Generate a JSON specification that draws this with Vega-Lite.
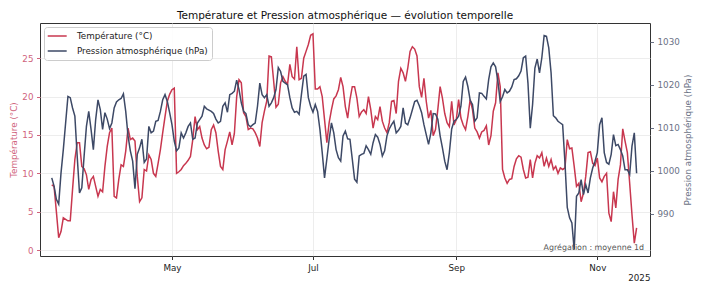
{
  "$schema": "https://vega.github.io/schema/vega-lite/v6.json",
  "width": 610,
  "height": 233,
  "autosize": {"type": "none"},
  "padding": {"left": 40, "top": 23, "right": 52, "bottom": 37},
  "background": "white",
  "config": {
    "font": "DejaVu Sans",
    "view": {"stroke": "#333333", "strokeWidth": 1},
    "axis": {
      "labelFont": "DejaVu Sans",
      "titleFont": "DejaVu Sans",
      "labelFontSize": 8.75,
      "titleFontSize": 8.75,
      "titleFontWeight": "normal",
      "tickSize": 3.5,
      "labelPadding": 3.5,
      "domain": false,
      "gridColor": "#e8e8e8",
      "gridWidth": 0.8
    }
  },
  "title": {
    "text": "Température et Pression atmosphérique — évolution temporelle",
    "font": "DejaVu Sans",
    "fontSize": 10.5,
    "fontWeight": "normal",
    "color": "#111111",
    "anchor": "middle",
    "frame": "group",
    "baseline": "alphabetic",
    "offset": -6
  },
  "data": {
    "format": {"parse": {"d": "date:'%Y-%m-%d'"}},
    "values": [
      {"d":"2025-03-10","t":8.5,"p":998.3},{"d":"2025-03-11","t":8.3,"p":996.4},{"d":"2025-03-12","t":5.0,"p":993.3},{"d":"2025-03-13","t":1.6,"p":992.2},{"d":"2025-03-14","t":2.4,"p":999.4},{"d":"2025-03-15","t":4.2,"p":1004.9},{"d":"2025-03-16","t":4.0,"p":1011.1},{"d":"2025-03-17","t":3.8,"p":1017.3},{"d":"2025-03-18","t":3.8,"p":1017.0},{"d":"2025-03-19","t":7.9,"p":1014.6},
      {"d":"2025-03-20","t":11.8,"p":1012.7},{"d":"2025-03-21","t":14.0,"p":1003.4},{"d":"2025-03-22","t":14.0,"p":994.8},{"d":"2025-03-23","t":10.9,"p":996.0},{"d":"2025-03-24","t":10.6,"p":1003.4},{"d":"2025-03-25","t":9.8,"p":1010.3},{"d":"2025-03-26","t":7.9,"p":1013.8},{"d":"2025-03-27","t":9.2,"p":1009.6},{"d":"2025-03-28","t":9.6,"p":1004.9},{"d":"2025-03-29","t":8.3,"p":1011.9},
      {"d":"2025-03-30","t":7.0,"p":1016.5},{"d":"2025-03-31","t":7.9,"p":1014.2},{"d":"2025-04-01","t":7.6,"p":1009.6},{"d":"2025-04-02","t":10.9,"p":1013.5},{"d":"2025-04-03","t":13.5,"p":1012.0},{"d":"2025-04-04","t":15.3,"p":1009.8},{"d":"2025-04-05","t":15.9,"p":1011.1},{"d":"2025-04-06","t":7.0,"p":1014.6},{"d":"2025-04-07","t":6.8,"p":1016.0},{"d":"2025-04-08","t":9.2,"p":1016.5},
      {"d":"2025-04-09","t":11.1,"p":1016.8},{"d":"2025-04-10","t":10.9,"p":1017.9},{"d":"2025-04-11","t":12.9,"p":1013.8},{"d":"2025-04-12","t":15.9,"p":1008.1},{"d":"2025-04-13","t":14.4,"p":1004.6},{"d":"2025-04-14","t":14.6,"p":1002.2},{"d":"2025-04-15","t":14.2,"p":995.8},{"d":"2025-04-16","t":9.6,"p":1003.8},{"d":"2025-04-17","t":6.3,"p":1005.3},{"d":"2025-04-18","t":6.8,"p":1007.3},
      {"d":"2025-04-19","t":10.5,"p":1001.9},{"d":"2025-04-20","t":10.3,"p":1002.7},{"d":"2025-04-21","t":12.4,"p":1010.3},{"d":"2025-04-22","t":11.8,"p":1008.8},{"d":"2025-04-23","t":10.0,"p":1009.2},{"d":"2025-04-24","t":9.6,"p":1011.5},{"d":"2025-04-25","t":11.3,"p":1011.7},{"d":"2025-04-26","t":13.1,"p":1013.8},{"d":"2025-04-27","t":15.3,"p":1016.5},{"d":"2025-04-28","t":17.4,"p":1017.7},
      {"d":"2025-04-29","t":19.4,"p":1016.1},{"d":"2025-04-30","t":20.3,"p":1013.5},{"d":"2025-05-01","t":20.9,"p":1010.7},{"d":"2025-05-02","t":21.1,"p":1006.9},{"d":"2025-05-03","t":10.0,"p":1004.6},{"d":"2025-05-04","t":10.2,"p":1005.3},{"d":"2025-05-05","t":10.5,"p":1008.8},{"d":"2025-05-06","t":11.0,"p":1007.6},{"d":"2025-05-07","t":11.3,"p":1008.8},{"d":"2025-05-08","t":11.7,"p":1010.3},
      {"d":"2025-05-09","t":12.2,"p":1011.1},{"d":"2025-05-10","t":14.4,"p":1007.3},{"d":"2025-05-11","t":17.4,"p":1007.6},{"d":"2025-05-12","t":15.7,"p":1011.1},{"d":"2025-05-13","t":16.1,"p":1011.9},{"d":"2025-05-14","t":14.6,"p":1012.7},{"d":"2025-05-15","t":13.7,"p":1015.0},{"d":"2025-05-16","t":13.2,"p":1014.4},{"d":"2025-05-17","t":13.4,"p":1014.1},{"d":"2025-05-18","t":15.7,"p":1013.8},
      {"d":"2025-05-19","t":16.3,"p":1013.3},{"d":"2025-05-20","t":15.3,"p":1012.0},{"d":"2025-05-21","t":12.9,"p":1011.1},{"d":"2025-05-22","t":10.9,"p":1011.5},{"d":"2025-05-23","t":10.5,"p":1015.0},{"d":"2025-05-24","t":13.1,"p":1015.8},{"d":"2025-05-25","t":14.2,"p":1013.6},{"d":"2025-05-26","t":15.4,"p":1017.7},{"d":"2025-05-27","t":13.7,"p":1018.0},{"d":"2025-05-28","t":15.2,"p":1018.5},
      {"d":"2025-05-29","t":20.0,"p":1021.1},{"d":"2025-05-30","t":22.2,"p":1018.9},{"d":"2025-05-31","t":21.8,"p":1015.8},{"d":"2025-06-01","t":17.9,"p":1013.8},{"d":"2025-06-02","t":17.4,"p":1013.3},{"d":"2025-06-03","t":15.7,"p":1010.7},{"d":"2025-06-04","t":15.9,"p":1010.2},{"d":"2025-06-05","t":15.8,"p":1010.7},{"d":"2025-06-06","t":15.3,"p":1011.1},{"d":"2025-06-07","t":14.6,"p":1015.0},
      {"d":"2025-06-08","t":13.5,"p":1020.4},{"d":"2025-06-09","t":16.6,"p":1017.7},{"d":"2025-06-10","t":18.1,"p":1017.0},{"d":"2025-06-11","t":19.4,"p":1017.7},{"d":"2025-06-12","t":25.3,"p":1015.0},{"d":"2025-06-13","t":25.2,"p":1015.8},{"d":"2025-06-14","t":22.0,"p":1017.0},{"d":"2025-06-15","t":18.6,"p":1018.9},{"d":"2025-06-16","t":19.0,"p":1024.0},{"d":"2025-06-17","t":21.8,"p":1023.1},
      {"d":"2025-06-18","t":22.6,"p":1020.8},{"d":"2025-06-19","t":22.0,"p":1020.4},{"d":"2025-06-20","t":21.6,"p":1020.0},{"d":"2025-06-21","t":24.2,"p":1017.0},{"d":"2025-06-22","t":22.6,"p":1014.6},{"d":"2025-06-23","t":22.3,"p":1013.6},{"d":"2025-06-24","t":26.5,"p":1013.8},{"d":"2025-06-25","t":22.2,"p":1013.1},{"d":"2025-06-26","t":22.4,"p":1017.7},{"d":"2025-06-27","t":25.0,"p":1022.0},
      {"d":"2025-06-28","t":25.9,"p":1022.4},{"d":"2025-06-29","t":26.8,"p":1017.0},{"d":"2025-06-30","t":28.0,"p":1015.0},{"d":"2025-07-01","t":28.2,"p":1013.6},{"d":"2025-07-02","t":21.0,"p":1015.4},{"d":"2025-07-03","t":21.0,"p":1013.8},{"d":"2025-07-04","t":21.3,"p":1009.6},{"d":"2025-07-05","t":20.0,"p":1004.2},{"d":"2025-07-06","t":17.0,"p":998.3},{"d":"2025-07-07","t":14.0,"p":1002.7},
      {"d":"2025-07-08","t":16.6,"p":1007.3},{"d":"2025-07-09","t":18.3,"p":1011.1},{"d":"2025-07-10","t":19.7,"p":1008.8},{"d":"2025-07-11","t":20.1,"p":1004.9},{"d":"2025-07-12","t":20.9,"p":1003.0},{"d":"2025-07-13","t":22.5,"p":1002.2},{"d":"2025-07-14","t":21.3,"p":1008.1},{"d":"2025-07-15","t":18.7,"p":1009.2},{"d":"2025-07-16","t":17.2,"p":1007.4},{"d":"2025-07-17","t":19.6,"p":1007.3},
      {"d":"2025-07-18","t":21.3,"p":1002.7},{"d":"2025-07-19","t":21.3,"p":998.0},{"d":"2025-07-20","t":19.8,"p":997.3},{"d":"2025-07-21","t":17.4,"p":1003.4},{"d":"2025-07-22","t":18.0,"p":1003.8},{"d":"2025-07-23","t":18.3,"p":1004.0},{"d":"2025-07-24","t":17.8,"p":1005.8},{"d":"2025-07-25","t":20.0,"p":1004.9},{"d":"2025-07-26","t":18.3,"p":1003.8},{"d":"2025-07-27","t":15.9,"p":1006.5},
      {"d":"2025-07-28","t":17.4,"p":1008.4},{"d":"2025-07-29","t":17.0,"p":1007.8},{"d":"2025-07-30","t":18.7,"p":1006.1},{"d":"2025-07-31","t":16.8,"p":1003.4},{"d":"2025-08-01","t":15.9,"p":1004.6},{"d":"2025-08-02","t":15.3,"p":1008.1},{"d":"2025-08-03","t":16.6,"p":1009.7},{"d":"2025-08-04","t":19.4,"p":1010.7},{"d":"2025-08-05","t":19.5,"p":1011.5},{"d":"2025-08-06","t":17.8,"p":1008.8},
      {"d":"2025-08-07","t":22.0,"p":1009.4},{"d":"2025-08-08","t":23.7,"p":1010.3},{"d":"2025-08-09","t":23.1,"p":1014.6},{"d":"2025-08-10","t":22.0,"p":1011.1},{"d":"2025-08-11","t":23.7,"p":1010.7},{"d":"2025-08-12","t":25.9,"p":1012.3},{"d":"2025-08-13","t":26.5,"p":1014.2},{"d":"2025-08-14","t":26.2,"p":1016.1},{"d":"2025-08-15","t":25.3,"p":1016.4},{"d":"2025-08-16","t":21.3,"p":1015.1},
      {"d":"2025-08-17","t":19.9,"p":1013.5},{"d":"2025-08-18","t":22.4,"p":1010.7},{"d":"2025-08-19","t":19.4,"p":1008.4},{"d":"2025-08-20","t":17.2,"p":1006.1},{"d":"2025-08-21","t":18.2,"p":1008.8},{"d":"2025-08-22","t":14.9,"p":1013.3},{"d":"2025-08-23","t":15.7,"p":1013.2},{"d":"2025-08-24","t":18.3,"p":1012.0},{"d":"2025-08-25","t":21.3,"p":1008.1},{"d":"2025-08-26","t":19.8,"p":1005.3},
      {"d":"2025-08-27","t":17.8,"p":1002.2},{"d":"2025-08-28","t":16.6,"p":1000.2},{"d":"2025-08-29","t":16.1,"p":1004.2},{"d":"2025-08-30","t":19.4,"p":1009.7},{"d":"2025-08-31","t":16.3,"p":1011.5},{"d":"2025-09-01","t":17.0,"p":1011.9},{"d":"2025-09-02","t":19.6,"p":1012.7},{"d":"2025-09-03","t":17.2,"p":1015.0},{"d":"2025-09-04","t":16.3,"p":1020.8},{"d":"2025-09-05","t":15.7,"p":1021.8},
      {"d":"2025-09-06","t":17.4,"p":1019.6},{"d":"2025-09-07","t":19.6,"p":1016.4},{"d":"2025-09-08","t":18.3,"p":1015.4},{"d":"2025-09-09","t":15.9,"p":1011.5},{"d":"2025-09-10","t":15.4,"p":1012.3},{"d":"2025-09-11","t":14.6,"p":1018.1},{"d":"2025-09-12","t":15.4,"p":1018.0},{"d":"2025-09-13","t":15.6,"p":1017.3},{"d":"2025-09-14","t":16.2,"p":1016.7},{"d":"2025-09-15","t":13.7,"p":1021.2},
      {"d":"2025-09-16","t":14.9,"p":1024.2},{"d":"2025-09-17","t":18.1,"p":1025.1},{"d":"2025-09-18","t":19.2,"p":1024.2},{"d":"2025-09-19","t":23.1,"p":1020.8},{"d":"2025-09-20","t":21.3,"p":1016.1},{"d":"2025-09-21","t":10.5,"p":1017.2},{"d":"2025-09-22","t":9.4,"p":1018.9},{"d":"2025-09-23","t":8.7,"p":1018.1},{"d":"2025-09-24","t":9.2,"p":1018.5},{"d":"2025-09-25","t":9.3,"p":1019.5},
      {"d":"2025-09-26","t":10.9,"p":1021.2},{"d":"2025-09-27","t":11.9,"p":1021.4},{"d":"2025-09-28","t":12.3,"p":1022.1},{"d":"2025-09-29","t":12.1,"p":1023.2},{"d":"2025-09-30","t":10.5,"p":1026.3},{"d":"2025-10-01","t":9.4,"p":1026.7},{"d":"2025-10-02","t":9.5,"p":1020.4},{"d":"2025-10-03","t":11.8,"p":1009.9},{"d":"2025-10-04","t":9.4,"p":1015.4},{"d":"2025-10-05","t":11.3,"p":1023.9},
      {"d":"2025-10-06","t":12.3,"p":1026.0},{"d":"2025-10-07","t":12.0,"p":1022.8},{"d":"2025-10-08","t":12.7,"p":1026.3},{"d":"2025-10-09","t":10.9,"p":1031.5},{"d":"2025-10-10","t":12.0,"p":1031.3},{"d":"2025-10-11","t":10.9,"p":1028.6},{"d":"2025-10-12","t":11.8,"p":1022.8},{"d":"2025-10-13","t":10.5,"p":1012.8},{"d":"2025-10-14","t":10.9,"p":1012.3},{"d":"2025-10-15","t":10.0,"p":1011.5},
      {"d":"2025-10-16","t":10.7,"p":1011.1},{"d":"2025-10-17","t":10.5,"p":1010.7},{"d":"2025-10-18","t":10.7,"p":1001.9},{"d":"2025-10-19","t":14.4,"p":991.4},{"d":"2025-10-20","t":13.2,"p":989.0},{"d":"2025-10-21","t":13.3,"p":987.8},{"d":"2025-10-22","t":10.9,"p":981.6},{"d":"2025-10-23","t":8.3,"p":994.0},{"d":"2025-10-24","t":8.7,"p":994.8},{"d":"2025-10-25","t":6.3,"p":997.9},
      {"d":"2025-10-26","t":7.4,"p":994.4},{"d":"2025-10-27","t":9.6,"p":996.7},{"d":"2025-10-28","t":12.7,"p":994.8},{"d":"2025-10-29","t":12.8,"p":998.3},{"d":"2025-10-30","t":11.3,"p":1000.6},{"d":"2025-10-31","t":11.0,"p":1002.2},{"d":"2025-11-01","t":12.0,"p":1004.2},{"d":"2025-11-02","t":9.4,"p":1010.7},{"d":"2025-11-03","t":8.9,"p":1012.3},{"d":"2025-11-04","t":9.6,"p":1004.2},
      {"d":"2025-11-05","t":10.0,"p":1001.9},{"d":"2025-11-06","t":4.8,"p":1001.5},{"d":"2025-11-07","t":3.7,"p":1003.8},{"d":"2025-11-08","t":7.6,"p":1008.4},{"d":"2025-11-09","t":5.5,"p":1005.8},{"d":"2025-11-10","t":9.2,"p":1006.1},{"d":"2025-11-11","t":11.1,"p":1004.9},{"d":"2025-11-12","t":15.8,"p":1003.4},{"d":"2025-11-13","t":14.2,"p":1000.2},{"d":"2025-11-14","t":12.7,"p":1000.2},
      {"d":"2025-11-15","t":8.7,"p":999.1},{"d":"2025-11-16","t":4.6,"p":1005.7},{"d":"2025-11-17","t":0.9,"p":1008.8},{"d":"2025-11-18","t":2.9,"p":999.4}
    ]
  },
  "encoding": {
    "x": {
      "field": "d",
      "type": "temporal",
      "scale": {
        "domain": [
          {"year": 2025, "month": 3, "date": 4, "hours": 22},
          {"year": 2025, "month": 11, "date": 23, "hours": 19}
        ]
      },
      "axis": {
        "values": [
          {"year": 2025, "month": 5, "date": 1},
          {"year": 2025, "month": 7, "date": 1},
          {"year": 2025, "month": 9, "date": 1},
          {"year": 2025, "month": 11, "date": 1}
        ],
        "format": "%b",
        "grid": true,
        "labelColor": "#222222",
        "tickColor": "#333333",
        "title": "2025",
        "titleColor": "#222222",
        "titleAnchor": "end",
        "titleAlign": "right",
        "titlePadding": 2
      }
    }
  },
  "layer": [
    {
      "layer": [
        {
          "mark": {"type": "line", "strokeWidth": 1.5},
          "encoding": {
            "y": {
              "field": "t",
              "type": "quantitative",
              "scale": {"domain": [-0.78, 29.6], "nice": false, "zero": false},
              "axis": {
                "title": "Température (°C)",
                "values": [0, 5, 10, 15, 20, 25],
                "grid": true,
                "labelColor": "#d0647c",
                "tickColor": "#d0647c",
                "titleColor": "#d0647c",
                "titlePadding": 3
              }
            },
            "color": {
              "datum": "Température (°C)",
              "type": "nominal",
              "scale": {
                "domain": ["Température (°C)", "Pression atmosphérique (hPa)"],
                "range": ["#c8374f", "#3d4966"]
              },
              "legend": {
                "title": null,
                "orient": "top-left",
                "offset": 4,
                "padding": 3.5,
                "fillColor": "rgba(255,255,255,0.85)",
                "strokeColor": "#cccccc",
                "cornerRadius": 3,
                "symbolType": "M-2,0L2,0",
                "symbolSize": 90,
                "symbolOffset": 4.2,
                "symbolStrokeWidth": 1.5,
                "labelFont": "DejaVu Sans",
                "labelFontSize": 8.75,
                "labelColor": "#222222",
                "labelOffset": 14.2,
                "rowPadding": 4
              }
            }
          }
        },
        {
          "data": {
            "format": {"parse": {"d": "date:'%Y-%m-%dT%H:%M'"}},
            "values": [{"d": "2025-11-21T05:00", "t": 0, "note": "Agrégation : moyenne 1d"}]
          },
          "mark": {
            "type": "text",
            "align": "right",
            "baseline": "alphabetic",
            "font": "DejaVu Sans",
            "fontSize": 7.9,
            "color": "#555555"
          },
          "encoding": {
            "y": {"field": "t", "type": "quantitative"},
            "text": {"field": "note"}
          }
        }
      ]
    },
    {
      "mark": {"type": "line", "strokeWidth": 1.5},
      "encoding": {
        "y": {
          "field": "p",
          "type": "quantitative",
          "scale": {"domain": [980.1, 1034.4], "nice": false, "zero": false},
          "axis": {
            "orient": "right",
            "title": "Pression atmosphérique (hPa)",
            "values": [990, 1000, 1010, 1020, 1030],
            "format": "d",
            "grid": false,
            "labelColor": "#6b7286",
            "tickColor": "#6b7286",
            "titleColor": "#6b7286",
            "titleAngle": 270,
            "titleBaseline": "top",
            "titlePadding": 4
          }
        },
        "color": {"datum": "Pression atmosphérique (hPa)", "type": "nominal"}
      }
    }
  ],
  "resolve": {"scale": {"y": "independent"}}
}
